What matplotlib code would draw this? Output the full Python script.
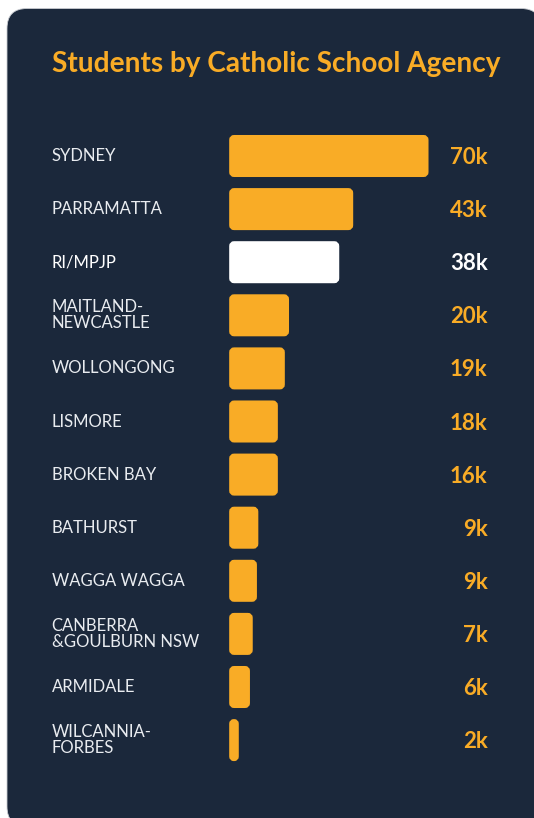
import matplotlib.pyplot as plt
from matplotlib.patches import FancyBboxPatch
from matplotlib.transforms import blended_transform_factory

# --------------------------------------------------------------
# Data (thousands of students)
agencies = ['SYDNEY', 'PARRAMATTA', 'RI/MPJP', 'MAITLAND-\nNEWCASTLE', 'WOLLONGONG',
            'LISMORE', 'BROKEN BAY', 'BATHURST', 'WAGGA WAGGA',
            'CANBERRA\n&GOULBURN NSW', 'ARMIDALE', 'WILCANNIA-\nFORBES']
students = [70, 43, 38, 20, 18.5, 16, 16, 9, 8.5, 7, 6, 2]
value_labels = ['70k', '43k', '38k', '20k', '19k', '18k', '16k', '9k', '9k', '7k', '6k', '2k']
highlight = 'RI/MPJP'

# --------------------------------------------------------------
# Style
W, H = 534, 818
bg = '#1b283b'
orange = '#f9ac26'
white = '#ffffff'
label_col = '#e9ecf0'
plt.rcParams['font.family'] = ['Lato', 'DejaVu Sans']

fig = plt.figure(figsize=(W / 100, H / 100), dpi=100)
fig.patch.set_facecolor('white')

# panel background, pixel coords
bg_ax = fig.add_axes([0, 0, 1, 1])
bg_ax.set_xlim(0, W)
bg_ax.set_ylim(H, 0)
bg_ax.axis('off')
bg_ax.add_patch(FancyBboxPatch((7, 8.5), 534, 818, boxstyle='round,pad=0,rounding_size=20',
                               facecolor=bg, edgecolor='#c9ccd1', linewidth=0.6))

fig.text(52 / W, 1 - 72 / H, 'Students by Catholic School Agency', color=orange,
         fontsize=20.2, fontweight='bold', ha='left', va='baseline')

# --------------------------------------------------------------
# Bars
px_per_k = 2.79
row_px = 53.1
x0, y_first = 231.2, 156
n = len(agencies)
top = y_first - row_px / 2
ax = fig.add_axes([x0 / W, 1 - (top + n * row_px) / H, 70 * px_per_k / W, n * row_px / H])
ax.set_xlim(0, 70)
ax.set_ylim(n - 0.5, -0.5)
ax.axis('off')

bar_h = 38 / row_px
aspect = (1 / row_px) / (1 / px_per_k)
for i, (name, v) in enumerate(zip(agencies, students)):
  col = white if name == highlight else orange
  r = min(3 / px_per_k, v / 2)
  ax.add_patch(FancyBboxPatch((0, i - bar_h / 2), v, bar_h,
                              boxstyle=f'round,pad=0,rounding_size={r}',
                              mutation_aspect=aspect, facecolor=col, edgecolor=col,
                              linewidth=2.9, clip_on=False))

tr = blended_transform_factory(fig.transFigure, ax.transData)
for i, (name, lab) in enumerate(zip(agencies, value_labels)):
  col = white if name == highlight else orange
  ax.text(51.5 / W, i, name, transform=tr, color=white if name == highlight else label_col,
          fontsize=12, ha='left', va='center', linespacing=1.0)
  ax.text(487.5 / W, i + 0.03, lab, transform=tr, color=col, fontsize=16,
          fontweight='bold', ha='right', va='center')

fig.savefig('out.png', dpi=100, facecolor=fig.get_facecolor())
